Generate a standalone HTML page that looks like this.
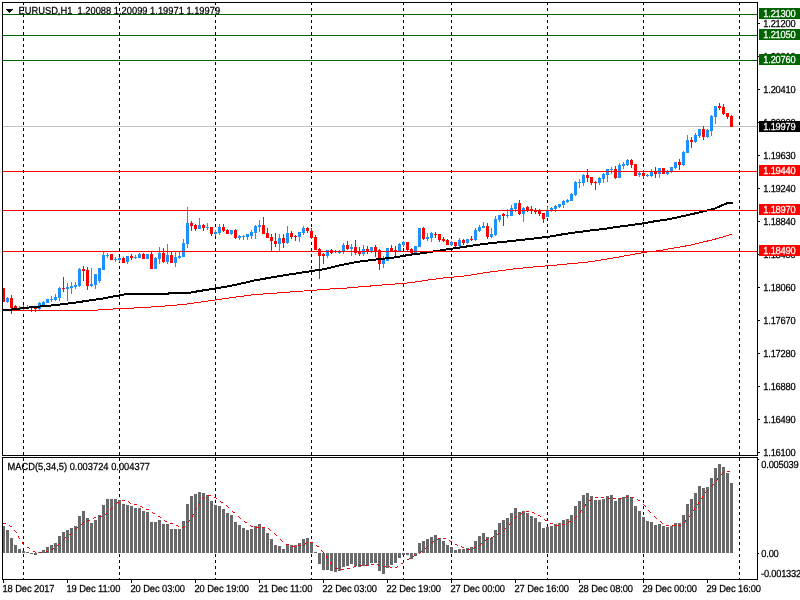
<!DOCTYPE html>
<html><head><meta charset="utf-8"><title>EURUSD,H1</title>
<style>
html,body{margin:0;padding:0;background:#fff;overflow:hidden}
svg{display:block}
text{font-family:"Liberation Sans",sans-serif;font-size:10.2px;fill:#000;stroke:#000;stroke-width:0.25px;text-rendering:geometricPrecision}
.ax{letter-spacing:-0.24px}
.tm{letter-spacing:-0.09px}
.w{fill:#fff;stroke:#fff}
</style></head><body>
<svg width="800" height="600" viewBox="0 0 800 600">
<rect x="0" y="0" width="800" height="600" fill="#fff"/>
<g shape-rendering="crispEdges">
<g stroke="#000" stroke-width="1" stroke-dasharray="3 3">
<line x1="23.5" y1="2" x2="23.5" y2="579"/>
<line x1="119.5" y1="2" x2="119.5" y2="579"/>
<line x1="215.5" y1="2" x2="215.5" y2="579"/>
<line x1="311.5" y1="2" x2="311.5" y2="579"/>
<line x1="403.5" y1="2" x2="403.5" y2="579"/>
<line x1="451.5" y1="2" x2="451.5" y2="579"/>
<line x1="547.5" y1="2" x2="547.5" y2="579"/>
<line x1="643.5" y1="2" x2="643.5" y2="579"/>
<line x1="739.5" y1="2" x2="739.5" y2="579"/>
</g>
<rect x="3" y="126" width="754" height="1" fill="#c0c0c0"/>
<rect x="3" y="288" width="1" height="14" fill="#ff0000"/>
<rect x="2" y="288" width="3" height="14" fill="#ff0000"/>
<rect x="7" y="297" width="1" height="6" fill="#1e90ff"/>
<rect x="6" y="298" width="3" height="4" fill="#1e90ff"/>
<rect x="11" y="295" width="1" height="19" fill="#ff0000"/>
<rect x="10" y="298" width="3" height="10" fill="#ff0000"/>
<rect x="15" y="305" width="1" height="4" fill="#ff0000"/>
<rect x="14" y="306" width="3" height="3" fill="#ff0000"/>
<rect x="19" y="306" width="1" height="5" fill="#1e90ff"/>
<rect x="18" y="308" width="3" height="2" fill="#1e90ff"/>
<rect x="23" y="305" width="1" height="6" fill="#1e90ff"/>
<rect x="22" y="307" width="3" height="2" fill="#1e90ff"/>
<rect x="27" y="305" width="1" height="3" fill="#1e90ff"/>
<rect x="26" y="307" width="3" height="1" fill="#1e90ff"/>
<rect x="31" y="307" width="1" height="5" fill="#ff0000"/>
<rect x="30" y="307" width="3" height="1" fill="#ff0000"/>
<rect x="35" y="307" width="1" height="5" fill="#ff0000"/>
<rect x="34" y="307" width="3" height="2" fill="#ff0000"/>
<rect x="39" y="302" width="1" height="8" fill="#1e90ff"/>
<rect x="38" y="303" width="3" height="6" fill="#1e90ff"/>
<rect x="43" y="301" width="1" height="5" fill="#1e90ff"/>
<rect x="42" y="302" width="3" height="3" fill="#1e90ff"/>
<rect x="47" y="299" width="1" height="4" fill="#1e90ff"/>
<rect x="46" y="299" width="3" height="4" fill="#1e90ff"/>
<rect x="51" y="296" width="1" height="6" fill="#1e90ff"/>
<rect x="50" y="299" width="3" height="1" fill="#1e90ff"/>
<rect x="55" y="294" width="1" height="7" fill="#1e90ff"/>
<rect x="54" y="297" width="3" height="3" fill="#1e90ff"/>
<rect x="59" y="287" width="1" height="14" fill="#1e90ff"/>
<rect x="58" y="288" width="3" height="10" fill="#1e90ff"/>
<rect x="63" y="277" width="1" height="15" fill="#ff0000"/>
<rect x="62" y="288" width="3" height="1" fill="#ff0000"/>
<rect x="67" y="283" width="1" height="18" fill="#1e90ff"/>
<rect x="66" y="287" width="3" height="2" fill="#1e90ff"/>
<rect x="71" y="282" width="1" height="12" fill="#1e90ff"/>
<rect x="70" y="286" width="3" height="2" fill="#1e90ff"/>
<rect x="75" y="282" width="1" height="7" fill="#1e90ff"/>
<rect x="74" y="285" width="3" height="2" fill="#1e90ff"/>
<rect x="79" y="268" width="1" height="19" fill="#1e90ff"/>
<rect x="78" y="269" width="3" height="17" fill="#1e90ff"/>
<rect x="83" y="266" width="1" height="15" fill="#ff0000"/>
<rect x="82" y="269" width="3" height="2" fill="#ff0000"/>
<rect x="87" y="267" width="1" height="23" fill="#ff0000"/>
<rect x="86" y="270" width="3" height="16" fill="#ff0000"/>
<rect x="91" y="268" width="1" height="19" fill="#1e90ff"/>
<rect x="90" y="284" width="3" height="2" fill="#1e90ff"/>
<rect x="95" y="274" width="1" height="15" fill="#1e90ff"/>
<rect x="94" y="274" width="3" height="11" fill="#1e90ff"/>
<rect x="99" y="268" width="1" height="15" fill="#1e90ff"/>
<rect x="98" y="268" width="3" height="13" fill="#1e90ff"/>
<rect x="103" y="252" width="1" height="18" fill="#1e90ff"/>
<rect x="102" y="255" width="3" height="15" fill="#1e90ff"/>
<rect x="107" y="253" width="1" height="5" fill="#1e90ff"/>
<rect x="106" y="255" width="3" height="1" fill="#1e90ff"/>
<rect x="111" y="254" width="1" height="6" fill="#ff0000"/>
<rect x="110" y="254" width="3" height="6" fill="#ff0000"/>
<rect x="115" y="257" width="1" height="5" fill="#1e90ff"/>
<rect x="114" y="259" width="3" height="1" fill="#1e90ff"/>
<rect x="119" y="257" width="1" height="5" fill="#1e90ff"/>
<rect x="118" y="258" width="3" height="2" fill="#1e90ff"/>
<rect x="123" y="257" width="1" height="6" fill="#ff0000"/>
<rect x="122" y="258" width="3" height="5" fill="#ff0000"/>
<rect x="127" y="256" width="1" height="8" fill="#1e90ff"/>
<rect x="126" y="256" width="3" height="6" fill="#1e90ff"/>
<rect x="131" y="254" width="1" height="6" fill="#ff0000"/>
<rect x="130" y="256" width="3" height="2" fill="#ff0000"/>
<rect x="135" y="255" width="1" height="4" fill="#1e90ff"/>
<rect x="134" y="257" width="3" height="1" fill="#1e90ff"/>
<rect x="139" y="253" width="1" height="5" fill="#1e90ff"/>
<rect x="138" y="254" width="3" height="4" fill="#1e90ff"/>
<rect x="143" y="253" width="1" height="6" fill="#ff0000"/>
<rect x="142" y="254" width="3" height="5" fill="#ff0000"/>
<rect x="147" y="254" width="1" height="5" fill="#1e90ff"/>
<rect x="146" y="254" width="3" height="5" fill="#1e90ff"/>
<rect x="151" y="252" width="1" height="17" fill="#ff0000"/>
<rect x="150" y="254" width="3" height="15" fill="#ff0000"/>
<rect x="155" y="257" width="1" height="12" fill="#1e90ff"/>
<rect x="154" y="258" width="3" height="11" fill="#1e90ff"/>
<rect x="159" y="247" width="1" height="17" fill="#1e90ff"/>
<rect x="158" y="253" width="3" height="6" fill="#1e90ff"/>
<rect x="163" y="248" width="1" height="15" fill="#ff0000"/>
<rect x="162" y="253" width="3" height="9" fill="#ff0000"/>
<rect x="167" y="244" width="1" height="20" fill="#1e90ff"/>
<rect x="166" y="255" width="3" height="7" fill="#1e90ff"/>
<rect x="171" y="252" width="1" height="11" fill="#ff0000"/>
<rect x="170" y="255" width="3" height="8" fill="#ff0000"/>
<rect x="175" y="252" width="1" height="15" fill="#1e90ff"/>
<rect x="174" y="257" width="3" height="6" fill="#1e90ff"/>
<rect x="179" y="252" width="1" height="7" fill="#1e90ff"/>
<rect x="178" y="256" width="3" height="2" fill="#1e90ff"/>
<rect x="183" y="239" width="1" height="18" fill="#1e90ff"/>
<rect x="182" y="243" width="3" height="14" fill="#1e90ff"/>
<rect x="187" y="207" width="1" height="41" fill="#1e90ff"/>
<rect x="186" y="223" width="3" height="21" fill="#1e90ff"/>
<rect x="191" y="221" width="1" height="10" fill="#ff0000"/>
<rect x="190" y="223" width="3" height="3" fill="#ff0000"/>
<rect x="195" y="224" width="1" height="7" fill="#ff0000"/>
<rect x="194" y="225" width="3" height="4" fill="#ff0000"/>
<rect x="199" y="218" width="1" height="11" fill="#1e90ff"/>
<rect x="198" y="225" width="3" height="4" fill="#1e90ff"/>
<rect x="203" y="224" width="1" height="7" fill="#ff0000"/>
<rect x="202" y="225" width="3" height="3" fill="#ff0000"/>
<rect x="207" y="223" width="1" height="7" fill="#1e90ff"/>
<rect x="206" y="227" width="3" height="1" fill="#1e90ff"/>
<rect x="211" y="227" width="1" height="9" fill="#ff0000"/>
<rect x="210" y="227" width="3" height="7" fill="#ff0000"/>
<rect x="215" y="230" width="1" height="6" fill="#1e90ff"/>
<rect x="214" y="232" width="3" height="2" fill="#1e90ff"/>
<rect x="219" y="224" width="1" height="11" fill="#1e90ff"/>
<rect x="218" y="227" width="3" height="6" fill="#1e90ff"/>
<rect x="223" y="224" width="1" height="8" fill="#ff0000"/>
<rect x="222" y="227" width="3" height="4" fill="#ff0000"/>
<rect x="227" y="229" width="1" height="5" fill="#ff0000"/>
<rect x="226" y="230" width="3" height="4" fill="#ff0000"/>
<rect x="231" y="230" width="1" height="5" fill="#1e90ff"/>
<rect x="230" y="230" width="3" height="4" fill="#1e90ff"/>
<rect x="235" y="229" width="1" height="10" fill="#ff0000"/>
<rect x="234" y="230" width="3" height="8" fill="#ff0000"/>
<rect x="239" y="235" width="1" height="5" fill="#1e90ff"/>
<rect x="238" y="236" width="3" height="2" fill="#1e90ff"/>
<rect x="243" y="235" width="1" height="5" fill="#1e90ff"/>
<rect x="242" y="236" width="3" height="1" fill="#1e90ff"/>
<rect x="247" y="234" width="1" height="6" fill="#1e90ff"/>
<rect x="246" y="234" width="3" height="3" fill="#1e90ff"/>
<rect x="251" y="230" width="1" height="9" fill="#1e90ff"/>
<rect x="250" y="232" width="3" height="4" fill="#1e90ff"/>
<rect x="255" y="225" width="1" height="14" fill="#1e90ff"/>
<rect x="254" y="226" width="3" height="7" fill="#1e90ff"/>
<rect x="259" y="220" width="1" height="12" fill="#1e90ff"/>
<rect x="258" y="225" width="3" height="2" fill="#1e90ff"/>
<rect x="263" y="217" width="1" height="17" fill="#ff0000"/>
<rect x="262" y="225" width="3" height="9" fill="#ff0000"/>
<rect x="267" y="228" width="1" height="10" fill="#ff0000"/>
<rect x="266" y="233" width="3" height="5" fill="#ff0000"/>
<rect x="271" y="234" width="1" height="18" fill="#ff0000"/>
<rect x="270" y="237" width="3" height="4" fill="#ff0000"/>
<rect x="275" y="233" width="1" height="14" fill="#ff0000"/>
<rect x="274" y="241" width="3" height="3" fill="#ff0000"/>
<rect x="279" y="234" width="1" height="18" fill="#1e90ff"/>
<rect x="278" y="238" width="3" height="6" fill="#1e90ff"/>
<rect x="283" y="234" width="1" height="14" fill="#ff0000"/>
<rect x="282" y="238" width="3" height="5" fill="#ff0000"/>
<rect x="287" y="226" width="1" height="18" fill="#1e90ff"/>
<rect x="286" y="233" width="3" height="10" fill="#1e90ff"/>
<rect x="291" y="231" width="1" height="8" fill="#ff0000"/>
<rect x="290" y="233" width="3" height="4" fill="#ff0000"/>
<rect x="295" y="235" width="1" height="6" fill="#ff0000"/>
<rect x="294" y="236" width="3" height="1" fill="#ff0000"/>
<rect x="299" y="232" width="1" height="10" fill="#1e90ff"/>
<rect x="298" y="232" width="3" height="5" fill="#1e90ff"/>
<rect x="303" y="226" width="1" height="9" fill="#1e90ff"/>
<rect x="302" y="228" width="3" height="5" fill="#1e90ff"/>
<rect x="307" y="227" width="1" height="6" fill="#ff0000"/>
<rect x="306" y="228" width="3" height="3" fill="#ff0000"/>
<rect x="311" y="228" width="1" height="11" fill="#ff0000"/>
<rect x="310" y="231" width="3" height="7" fill="#ff0000"/>
<rect x="315" y="235" width="1" height="15" fill="#ff0000"/>
<rect x="314" y="237" width="3" height="13" fill="#ff0000"/>
<rect x="319" y="248" width="1" height="31" fill="#ff0000"/>
<rect x="318" y="249" width="3" height="7" fill="#ff0000"/>
<rect x="323" y="253" width="1" height="11" fill="#ff0000"/>
<rect x="322" y="254" width="3" height="2" fill="#ff0000"/>
<rect x="327" y="250" width="1" height="8" fill="#1e90ff"/>
<rect x="326" y="250" width="3" height="6" fill="#1e90ff"/>
<rect x="331" y="249" width="1" height="5" fill="#ff0000"/>
<rect x="330" y="250" width="3" height="3" fill="#ff0000"/>
<rect x="335" y="250" width="1" height="3" fill="#ff0000"/>
<rect x="334" y="251" width="3" height="1" fill="#ff0000"/>
<rect x="339" y="250" width="1" height="4" fill="#1e90ff"/>
<rect x="338" y="252" width="3" height="1" fill="#1e90ff"/>
<rect x="343" y="243" width="1" height="11" fill="#1e90ff"/>
<rect x="342" y="245" width="3" height="6" fill="#1e90ff"/>
<rect x="347" y="241" width="1" height="9" fill="#ff0000"/>
<rect x="346" y="245" width="3" height="4" fill="#ff0000"/>
<rect x="351" y="244" width="1" height="12" fill="#1e90ff"/>
<rect x="350" y="247" width="3" height="2" fill="#1e90ff"/>
<rect x="355" y="240" width="1" height="15" fill="#ff0000"/>
<rect x="354" y="247" width="3" height="6" fill="#ff0000"/>
<rect x="359" y="247" width="1" height="9" fill="#ff0000"/>
<rect x="358" y="251" width="3" height="3" fill="#ff0000"/>
<rect x="363" y="245" width="1" height="11" fill="#1e90ff"/>
<rect x="362" y="249" width="3" height="5" fill="#1e90ff"/>
<rect x="367" y="246" width="1" height="8" fill="#ff0000"/>
<rect x="366" y="249" width="3" height="2" fill="#ff0000"/>
<rect x="371" y="247" width="1" height="6" fill="#1e90ff"/>
<rect x="370" y="247" width="3" height="4" fill="#1e90ff"/>
<rect x="375" y="245" width="1" height="12" fill="#ff0000"/>
<rect x="374" y="247" width="3" height="4" fill="#ff0000"/>
<rect x="379" y="249" width="1" height="21" fill="#ff0000"/>
<rect x="378" y="250" width="3" height="14" fill="#ff0000"/>
<rect x="383" y="256" width="1" height="12" fill="#1e90ff"/>
<rect x="382" y="259" width="3" height="5" fill="#1e90ff"/>
<rect x="387" y="248" width="1" height="13" fill="#1e90ff"/>
<rect x="386" y="248" width="3" height="13" fill="#1e90ff"/>
<rect x="391" y="245" width="1" height="7" fill="#ff0000"/>
<rect x="390" y="248" width="3" height="3" fill="#ff0000"/>
<rect x="395" y="246" width="1" height="11" fill="#ff0000"/>
<rect x="394" y="250" width="3" height="1" fill="#ff0000"/>
<rect x="399" y="243" width="1" height="8" fill="#1e90ff"/>
<rect x="398" y="244" width="3" height="7" fill="#1e90ff"/>
<rect x="403" y="241" width="1" height="6" fill="#1e90ff"/>
<rect x="402" y="242" width="3" height="3" fill="#1e90ff"/>
<rect x="407" y="242" width="1" height="9" fill="#ff0000"/>
<rect x="406" y="242" width="3" height="8" fill="#ff0000"/>
<rect x="411" y="248" width="1" height="6" fill="#ff0000"/>
<rect x="410" y="249" width="3" height="4" fill="#ff0000"/>
<rect x="415" y="246" width="1" height="8" fill="#1e90ff"/>
<rect x="414" y="246" width="3" height="8" fill="#1e90ff"/>
<rect x="419" y="228" width="1" height="19" fill="#1e90ff"/>
<rect x="418" y="228" width="3" height="19" fill="#1e90ff"/>
<rect x="423" y="227" width="1" height="13" fill="#ff0000"/>
<rect x="422" y="228" width="3" height="11" fill="#ff0000"/>
<rect x="427" y="233" width="1" height="8" fill="#1e90ff"/>
<rect x="426" y="237" width="3" height="2" fill="#1e90ff"/>
<rect x="431" y="232" width="1" height="10" fill="#1e90ff"/>
<rect x="430" y="233" width="3" height="5" fill="#1e90ff"/>
<rect x="435" y="232" width="1" height="6" fill="#ff0000"/>
<rect x="434" y="234" width="3" height="1" fill="#ff0000"/>
<rect x="439" y="234" width="1" height="8" fill="#ff0000"/>
<rect x="438" y="234" width="3" height="6" fill="#ff0000"/>
<rect x="443" y="237" width="1" height="5" fill="#ff0000"/>
<rect x="442" y="239" width="3" height="2" fill="#ff0000"/>
<rect x="447" y="239" width="1" height="6" fill="#ff0000"/>
<rect x="446" y="240" width="3" height="5" fill="#ff0000"/>
<rect x="451" y="241" width="1" height="5" fill="#1e90ff"/>
<rect x="450" y="242" width="3" height="3" fill="#1e90ff"/>
<rect x="455" y="242" width="1" height="5" fill="#ff0000"/>
<rect x="454" y="242" width="3" height="4" fill="#ff0000"/>
<rect x="459" y="238" width="1" height="9" fill="#1e90ff"/>
<rect x="458" y="240" width="3" height="6" fill="#1e90ff"/>
<rect x="463" y="239" width="1" height="6" fill="#ff0000"/>
<rect x="462" y="240" width="3" height="3" fill="#ff0000"/>
<rect x="467" y="239" width="1" height="5" fill="#1e90ff"/>
<rect x="466" y="239" width="3" height="4" fill="#1e90ff"/>
<rect x="471" y="236" width="1" height="5" fill="#ff0000"/>
<rect x="470" y="239" width="3" height="1" fill="#ff0000"/>
<rect x="475" y="228" width="1" height="13" fill="#1e90ff"/>
<rect x="474" y="230" width="3" height="10" fill="#1e90ff"/>
<rect x="479" y="225" width="1" height="7" fill="#1e90ff"/>
<rect x="478" y="227" width="3" height="4" fill="#1e90ff"/>
<rect x="483" y="222" width="1" height="6" fill="#1e90ff"/>
<rect x="482" y="226" width="3" height="2" fill="#1e90ff"/>
<rect x="487" y="223" width="1" height="16" fill="#ff0000"/>
<rect x="486" y="226" width="3" height="11" fill="#ff0000"/>
<rect x="491" y="228" width="1" height="10" fill="#1e90ff"/>
<rect x="490" y="234" width="3" height="3" fill="#1e90ff"/>
<rect x="495" y="216" width="1" height="20" fill="#1e90ff"/>
<rect x="494" y="219" width="3" height="16" fill="#1e90ff"/>
<rect x="499" y="215" width="1" height="7" fill="#1e90ff"/>
<rect x="498" y="215" width="3" height="5" fill="#1e90ff"/>
<rect x="503" y="213" width="1" height="13" fill="#ff0000"/>
<rect x="502" y="214" width="3" height="2" fill="#ff0000"/>
<rect x="507" y="209" width="1" height="9" fill="#1e90ff"/>
<rect x="506" y="215" width="3" height="1" fill="#1e90ff"/>
<rect x="511" y="205" width="1" height="11" fill="#1e90ff"/>
<rect x="510" y="208" width="3" height="8" fill="#1e90ff"/>
<rect x="515" y="203" width="1" height="9" fill="#1e90ff"/>
<rect x="514" y="203" width="3" height="6" fill="#1e90ff"/>
<rect x="519" y="200" width="1" height="15" fill="#ff0000"/>
<rect x="518" y="203" width="3" height="11" fill="#ff0000"/>
<rect x="523" y="207" width="1" height="15" fill="#1e90ff"/>
<rect x="522" y="208" width="3" height="6" fill="#1e90ff"/>
<rect x="527" y="206" width="1" height="6" fill="#ff0000"/>
<rect x="526" y="207" width="3" height="4" fill="#ff0000"/>
<rect x="531" y="206" width="1" height="8" fill="#ff0000"/>
<rect x="530" y="209" width="3" height="2" fill="#ff0000"/>
<rect x="535" y="208" width="1" height="6" fill="#ff0000"/>
<rect x="534" y="210" width="3" height="2" fill="#ff0000"/>
<rect x="539" y="209" width="1" height="7" fill="#ff0000"/>
<rect x="538" y="211" width="3" height="3" fill="#ff0000"/>
<rect x="543" y="213" width="1" height="10" fill="#ff0000"/>
<rect x="542" y="213" width="3" height="6" fill="#ff0000"/>
<rect x="547" y="207" width="1" height="10" fill="#1e90ff"/>
<rect x="546" y="211" width="3" height="6" fill="#1e90ff"/>
<rect x="551" y="207" width="1" height="5" fill="#1e90ff"/>
<rect x="550" y="208" width="3" height="3" fill="#1e90ff"/>
<rect x="555" y="205" width="1" height="7" fill="#1e90ff"/>
<rect x="554" y="206" width="3" height="3" fill="#1e90ff"/>
<rect x="559" y="204" width="1" height="4" fill="#1e90ff"/>
<rect x="558" y="204" width="3" height="3" fill="#1e90ff"/>
<rect x="563" y="200" width="1" height="8" fill="#1e90ff"/>
<rect x="562" y="201" width="3" height="4" fill="#1e90ff"/>
<rect x="567" y="199" width="1" height="4" fill="#1e90ff"/>
<rect x="566" y="200" width="3" height="2" fill="#1e90ff"/>
<rect x="571" y="193" width="1" height="8" fill="#1e90ff"/>
<rect x="570" y="194" width="3" height="7" fill="#1e90ff"/>
<rect x="575" y="181" width="1" height="15" fill="#1e90ff"/>
<rect x="574" y="182" width="3" height="13" fill="#1e90ff"/>
<rect x="579" y="179" width="1" height="9" fill="#1e90ff"/>
<rect x="578" y="182" width="3" height="1" fill="#1e90ff"/>
<rect x="583" y="174" width="1" height="12" fill="#1e90ff"/>
<rect x="582" y="175" width="3" height="8" fill="#1e90ff"/>
<rect x="587" y="169" width="1" height="13" fill="#ff0000"/>
<rect x="586" y="175" width="3" height="3" fill="#ff0000"/>
<rect x="591" y="177" width="1" height="8" fill="#ff0000"/>
<rect x="590" y="177" width="3" height="6" fill="#ff0000"/>
<rect x="595" y="181" width="1" height="9" fill="#ff0000"/>
<rect x="594" y="182" width="3" height="1" fill="#ff0000"/>
<rect x="599" y="177" width="1" height="8" fill="#1e90ff"/>
<rect x="598" y="178" width="3" height="5" fill="#1e90ff"/>
<rect x="603" y="173" width="1" height="10" fill="#1e90ff"/>
<rect x="602" y="174" width="3" height="5" fill="#1e90ff"/>
<rect x="607" y="169" width="1" height="13" fill="#1e90ff"/>
<rect x="606" y="169" width="3" height="6" fill="#1e90ff"/>
<rect x="611" y="167" width="1" height="7" fill="#1e90ff"/>
<rect x="610" y="169" width="3" height="1" fill="#1e90ff"/>
<rect x="615" y="166" width="1" height="13" fill="#ff0000"/>
<rect x="614" y="169" width="3" height="9" fill="#ff0000"/>
<rect x="619" y="163" width="1" height="15" fill="#1e90ff"/>
<rect x="618" y="165" width="3" height="13" fill="#1e90ff"/>
<rect x="623" y="162" width="1" height="7" fill="#1e90ff"/>
<rect x="622" y="164" width="3" height="2" fill="#1e90ff"/>
<rect x="627" y="159" width="1" height="7" fill="#1e90ff"/>
<rect x="626" y="160" width="3" height="5" fill="#1e90ff"/>
<rect x="631" y="159" width="1" height="9" fill="#ff0000"/>
<rect x="630" y="160" width="3" height="5" fill="#ff0000"/>
<rect x="635" y="164" width="1" height="12" fill="#ff0000"/>
<rect x="634" y="164" width="3" height="12" fill="#ff0000"/>
<rect x="639" y="172" width="1" height="5" fill="#1e90ff"/>
<rect x="638" y="173" width="3" height="2" fill="#1e90ff"/>
<rect x="643" y="170" width="1" height="9" fill="#ff0000"/>
<rect x="642" y="173" width="3" height="3" fill="#ff0000"/>
<rect x="647" y="174" width="1" height="3" fill="#1e90ff"/>
<rect x="646" y="175" width="3" height="1" fill="#1e90ff"/>
<rect x="651" y="169" width="1" height="8" fill="#1e90ff"/>
<rect x="650" y="172" width="3" height="4" fill="#1e90ff"/>
<rect x="655" y="167" width="1" height="11" fill="#ff0000"/>
<rect x="654" y="172" width="3" height="2" fill="#ff0000"/>
<rect x="659" y="168" width="1" height="10" fill="#1e90ff"/>
<rect x="658" y="168" width="3" height="6" fill="#1e90ff"/>
<rect x="663" y="168" width="1" height="6" fill="#ff0000"/>
<rect x="662" y="168" width="3" height="6" fill="#ff0000"/>
<rect x="667" y="170" width="1" height="5" fill="#1e90ff"/>
<rect x="666" y="171" width="3" height="3" fill="#1e90ff"/>
<rect x="671" y="167" width="1" height="6" fill="#1e90ff"/>
<rect x="670" y="167" width="3" height="4" fill="#1e90ff"/>
<rect x="675" y="162" width="1" height="7" fill="#1e90ff"/>
<rect x="674" y="162" width="3" height="6" fill="#1e90ff"/>
<rect x="679" y="159" width="1" height="11" fill="#ff0000"/>
<rect x="678" y="162" width="3" height="3" fill="#ff0000"/>
<rect x="683" y="151" width="1" height="15" fill="#1e90ff"/>
<rect x="682" y="152" width="3" height="13" fill="#1e90ff"/>
<rect x="687" y="135" width="1" height="18" fill="#1e90ff"/>
<rect x="686" y="140" width="3" height="13" fill="#1e90ff"/>
<rect x="691" y="137" width="1" height="11" fill="#ff0000"/>
<rect x="690" y="140" width="3" height="2" fill="#ff0000"/>
<rect x="695" y="133" width="1" height="10" fill="#1e90ff"/>
<rect x="694" y="135" width="3" height="7" fill="#1e90ff"/>
<rect x="699" y="129" width="1" height="9" fill="#1e90ff"/>
<rect x="698" y="129" width="3" height="7" fill="#1e90ff"/>
<rect x="703" y="126" width="1" height="14" fill="#ff0000"/>
<rect x="702" y="129" width="3" height="8" fill="#ff0000"/>
<rect x="707" y="129" width="1" height="9" fill="#1e90ff"/>
<rect x="706" y="130" width="3" height="7" fill="#1e90ff"/>
<rect x="711" y="115" width="1" height="21" fill="#1e90ff"/>
<rect x="710" y="116" width="3" height="15" fill="#1e90ff"/>
<rect x="715" y="106" width="1" height="18" fill="#1e90ff"/>
<rect x="714" y="106" width="3" height="11" fill="#1e90ff"/>
<rect x="719" y="103" width="1" height="7" fill="#ff0000"/>
<rect x="718" y="106" width="3" height="2" fill="#ff0000"/>
<rect x="723" y="104" width="1" height="11" fill="#ff0000"/>
<rect x="722" y="107" width="3" height="7" fill="#ff0000"/>
<rect x="727" y="113" width="1" height="6" fill="#ff0000"/>
<rect x="726" y="113" width="3" height="4" fill="#ff0000"/>
<rect x="731" y="115" width="1" height="12" fill="#ff0000"/>
<rect x="730" y="116" width="3" height="11" fill="#ff0000"/>
<rect x="2" y="526" width="3" height="27" fill="#696969"/>
<rect x="6" y="530" width="3" height="23" fill="#696969"/>
<rect x="10" y="538" width="3" height="15" fill="#696969"/>
<rect x="14" y="545" width="3" height="8" fill="#696969"/>
<rect x="18" y="549" width="3" height="4" fill="#696969"/>
<rect x="22" y="551" width="3" height="2" fill="#696969"/>
<rect x="26" y="552" width="3" height="1" fill="#696969"/>
<rect x="30" y="553" width="3" height="1" fill="#696969"/>
<rect x="34" y="553" width="3" height="2" fill="#696969"/>
<rect x="38" y="552" width="3" height="1" fill="#696969"/>
<rect x="42" y="550" width="3" height="3" fill="#696969"/>
<rect x="46" y="547" width="3" height="6" fill="#696969"/>
<rect x="50" y="545" width="3" height="8" fill="#696969"/>
<rect x="54" y="543" width="3" height="10" fill="#696969"/>
<rect x="58" y="536" width="3" height="17" fill="#696969"/>
<rect x="62" y="532" width="3" height="21" fill="#696969"/>
<rect x="66" y="530" width="3" height="23" fill="#696969"/>
<rect x="70" y="528" width="3" height="25" fill="#696969"/>
<rect x="74" y="526" width="3" height="27" fill="#696969"/>
<rect x="78" y="516" width="3" height="37" fill="#696969"/>
<rect x="82" y="511" width="3" height="42" fill="#696969"/>
<rect x="86" y="518" width="3" height="35" fill="#696969"/>
<rect x="90" y="523" width="3" height="30" fill="#696969"/>
<rect x="94" y="520" width="3" height="33" fill="#696969"/>
<rect x="98" y="515" width="3" height="38" fill="#696969"/>
<rect x="102" y="505" width="3" height="48" fill="#696969"/>
<rect x="106" y="499" width="3" height="54" fill="#696969"/>
<rect x="110" y="499" width="3" height="54" fill="#696969"/>
<rect x="114" y="499" width="3" height="54" fill="#696969"/>
<rect x="118" y="500" width="3" height="53" fill="#696969"/>
<rect x="122" y="504" width="3" height="49" fill="#696969"/>
<rect x="126" y="505" width="3" height="48" fill="#696969"/>
<rect x="130" y="506" width="3" height="47" fill="#696969"/>
<rect x="134" y="508" width="3" height="45" fill="#696969"/>
<rect x="138" y="508" width="3" height="45" fill="#696969"/>
<rect x="142" y="511" width="3" height="42" fill="#696969"/>
<rect x="146" y="512" width="3" height="41" fill="#696969"/>
<rect x="150" y="522" width="3" height="31" fill="#696969"/>
<rect x="154" y="522" width="3" height="31" fill="#696969"/>
<rect x="158" y="520" width="3" height="33" fill="#696969"/>
<rect x="162" y="524" width="3" height="29" fill="#696969"/>
<rect x="166" y="524" width="3" height="29" fill="#696969"/>
<rect x="170" y="529" width="3" height="24" fill="#696969"/>
<rect x="174" y="529" width="3" height="24" fill="#696969"/>
<rect x="178" y="529" width="3" height="24" fill="#696969"/>
<rect x="182" y="521" width="3" height="32" fill="#696969"/>
<rect x="186" y="504" width="3" height="49" fill="#696969"/>
<rect x="190" y="496" width="3" height="57" fill="#696969"/>
<rect x="194" y="494" width="3" height="59" fill="#696969"/>
<rect x="198" y="492" width="3" height="61" fill="#696969"/>
<rect x="202" y="493" width="3" height="60" fill="#696969"/>
<rect x="206" y="495" width="3" height="58" fill="#696969"/>
<rect x="210" y="501" width="3" height="52" fill="#696969"/>
<rect x="214" y="505" width="3" height="48" fill="#696969"/>
<rect x="218" y="506" width="3" height="47" fill="#696969"/>
<rect x="222" y="509" width="3" height="44" fill="#696969"/>
<rect x="226" y="513" width="3" height="40" fill="#696969"/>
<rect x="230" y="515" width="3" height="38" fill="#696969"/>
<rect x="234" y="522" width="3" height="31" fill="#696969"/>
<rect x="238" y="525" width="3" height="28" fill="#696969"/>
<rect x="242" y="528" width="3" height="25" fill="#696969"/>
<rect x="246" y="530" width="3" height="23" fill="#696969"/>
<rect x="250" y="529" width="3" height="24" fill="#696969"/>
<rect x="254" y="526" width="3" height="27" fill="#696969"/>
<rect x="258" y="524" width="3" height="29" fill="#696969"/>
<rect x="262" y="528" width="3" height="25" fill="#696969"/>
<rect x="266" y="533" width="3" height="20" fill="#696969"/>
<rect x="270" y="539" width="3" height="14" fill="#696969"/>
<rect x="274" y="545" width="3" height="8" fill="#696969"/>
<rect x="278" y="546" width="3" height="7" fill="#696969"/>
<rect x="282" y="549" width="3" height="4" fill="#696969"/>
<rect x="286" y="545" width="3" height="8" fill="#696969"/>
<rect x="290" y="545" width="3" height="8" fill="#696969"/>
<rect x="294" y="545" width="3" height="8" fill="#696969"/>
<rect x="298" y="543" width="3" height="10" fill="#696969"/>
<rect x="302" y="539" width="3" height="14" fill="#696969"/>
<rect x="306" y="538" width="3" height="15" fill="#696969"/>
<rect x="310" y="542" width="3" height="11" fill="#696969"/>
<rect x="314" y="552" width="3" height="1" fill="#696969"/>
<rect x="318" y="553" width="3" height="11" fill="#696969"/>
<rect x="322" y="553" width="3" height="17" fill="#696969"/>
<rect x="326" y="553" width="3" height="17" fill="#696969"/>
<rect x="330" y="553" width="3" height="18" fill="#696969"/>
<rect x="334" y="553" width="3" height="19" fill="#696969"/>
<rect x="338" y="553" width="3" height="18" fill="#696969"/>
<rect x="342" y="553" width="3" height="14" fill="#696969"/>
<rect x="346" y="553" width="3" height="13" fill="#696969"/>
<rect x="350" y="553" width="3" height="11" fill="#696969"/>
<rect x="354" y="553" width="3" height="13" fill="#696969"/>
<rect x="358" y="553" width="3" height="14" fill="#696969"/>
<rect x="362" y="553" width="3" height="13" fill="#696969"/>
<rect x="366" y="553" width="3" height="13" fill="#696969"/>
<rect x="370" y="553" width="3" height="10" fill="#696969"/>
<rect x="374" y="553" width="3" height="10" fill="#696969"/>
<rect x="378" y="553" width="3" height="18" fill="#696969"/>
<rect x="382" y="553" width="3" height="21" fill="#696969"/>
<rect x="386" y="553" width="3" height="15" fill="#696969"/>
<rect x="390" y="553" width="3" height="12" fill="#696969"/>
<rect x="394" y="553" width="3" height="10" fill="#696969"/>
<rect x="398" y="553" width="3" height="5" fill="#696969"/>
<rect x="402" y="553" width="3" height="2" fill="#696969"/>
<rect x="406" y="553" width="3" height="2" fill="#696969"/>
<rect x="410" y="553" width="3" height="6" fill="#696969"/>
<rect x="414" y="553" width="3" height="3" fill="#696969"/>
<rect x="418" y="543" width="3" height="10" fill="#696969"/>
<rect x="422" y="541" width="3" height="12" fill="#696969"/>
<rect x="426" y="539" width="3" height="14" fill="#696969"/>
<rect x="430" y="537" width="3" height="16" fill="#696969"/>
<rect x="434" y="535" width="3" height="18" fill="#696969"/>
<rect x="438" y="538" width="3" height="15" fill="#696969"/>
<rect x="442" y="541" width="3" height="12" fill="#696969"/>
<rect x="446" y="545" width="3" height="8" fill="#696969"/>
<rect x="450" y="547" width="3" height="6" fill="#696969"/>
<rect x="454" y="550" width="3" height="3" fill="#696969"/>
<rect x="458" y="549" width="3" height="4" fill="#696969"/>
<rect x="462" y="549" width="3" height="4" fill="#696969"/>
<rect x="466" y="548" width="3" height="5" fill="#696969"/>
<rect x="470" y="547" width="3" height="6" fill="#696969"/>
<rect x="474" y="541" width="3" height="12" fill="#696969"/>
<rect x="478" y="536" width="3" height="17" fill="#696969"/>
<rect x="482" y="533" width="3" height="20" fill="#696969"/>
<rect x="486" y="537" width="3" height="16" fill="#696969"/>
<rect x="490" y="538" width="3" height="15" fill="#696969"/>
<rect x="494" y="530" width="3" height="23" fill="#696969"/>
<rect x="498" y="523" width="3" height="30" fill="#696969"/>
<rect x="502" y="520" width="3" height="33" fill="#696969"/>
<rect x="506" y="518" width="3" height="35" fill="#696969"/>
<rect x="510" y="513" width="3" height="40" fill="#696969"/>
<rect x="514" y="508" width="3" height="45" fill="#696969"/>
<rect x="518" y="512" width="3" height="41" fill="#696969"/>
<rect x="522" y="511" width="3" height="42" fill="#696969"/>
<rect x="526" y="513" width="3" height="40" fill="#696969"/>
<rect x="530" y="516" width="3" height="37" fill="#696969"/>
<rect x="534" y="518" width="3" height="35" fill="#696969"/>
<rect x="538" y="522" width="3" height="31" fill="#696969"/>
<rect x="542" y="528" width="3" height="25" fill="#696969"/>
<rect x="546" y="527" width="3" height="26" fill="#696969"/>
<rect x="550" y="526" width="3" height="27" fill="#696969"/>
<rect x="554" y="524" width="3" height="29" fill="#696969"/>
<rect x="558" y="523" width="3" height="30" fill="#696969"/>
<rect x="562" y="520" width="3" height="33" fill="#696969"/>
<rect x="566" y="519" width="3" height="34" fill="#696969"/>
<rect x="570" y="515" width="3" height="38" fill="#696969"/>
<rect x="574" y="506" width="3" height="47" fill="#696969"/>
<rect x="578" y="501" width="3" height="52" fill="#696969"/>
<rect x="582" y="495" width="3" height="58" fill="#696969"/>
<rect x="586" y="493" width="3" height="60" fill="#696969"/>
<rect x="590" y="496" width="3" height="57" fill="#696969"/>
<rect x="594" y="500" width="3" height="53" fill="#696969"/>
<rect x="598" y="500" width="3" height="53" fill="#696969"/>
<rect x="602" y="499" width="3" height="54" fill="#696969"/>
<rect x="606" y="496" width="3" height="57" fill="#696969"/>
<rect x="610" y="495" width="3" height="58" fill="#696969"/>
<rect x="614" y="501" width="3" height="52" fill="#696969"/>
<rect x="618" y="498" width="3" height="55" fill="#696969"/>
<rect x="622" y="497" width="3" height="56" fill="#696969"/>
<rect x="626" y="495" width="3" height="58" fill="#696969"/>
<rect x="630" y="497" width="3" height="56" fill="#696969"/>
<rect x="634" y="506" width="3" height="47" fill="#696969"/>
<rect x="638" y="511" width="3" height="42" fill="#696969"/>
<rect x="642" y="517" width="3" height="36" fill="#696969"/>
<rect x="646" y="521" width="3" height="32" fill="#696969"/>
<rect x="650" y="522" width="3" height="31" fill="#696969"/>
<rect x="654" y="525" width="3" height="28" fill="#696969"/>
<rect x="658" y="524" width="3" height="29" fill="#696969"/>
<rect x="662" y="526" width="3" height="27" fill="#696969"/>
<rect x="666" y="527" width="3" height="26" fill="#696969"/>
<rect x="670" y="526" width="3" height="27" fill="#696969"/>
<rect x="674" y="523" width="3" height="30" fill="#696969"/>
<rect x="678" y="523" width="3" height="30" fill="#696969"/>
<rect x="682" y="515" width="3" height="38" fill="#696969"/>
<rect x="686" y="504" width="3" height="49" fill="#696969"/>
<rect x="690" y="499" width="3" height="54" fill="#696969"/>
<rect x="694" y="493" width="3" height="60" fill="#696969"/>
<rect x="698" y="486" width="3" height="67" fill="#696969"/>
<rect x="702" y="488" width="3" height="65" fill="#696969"/>
<rect x="706" y="487" width="3" height="66" fill="#696969"/>
<rect x="710" y="478" width="3" height="75" fill="#696969"/>
<rect x="714" y="468" width="3" height="85" fill="#696969"/>
<rect x="718" y="464" width="3" height="89" fill="#696969"/>
<rect x="722" y="467" width="3" height="86" fill="#696969"/>
<rect x="726" y="473" width="3" height="80" fill="#696969"/>
<rect x="730" y="483" width="3" height="70" fill="#696969"/>
</g>
<polyline points="3.00,310.50 92.00,310.50 104.00,309.50 119.00,308.70 125.00,308.50 143.00,307.50 159.00,306.50 171.00,305.50 183.00,304.50 191.00,303.50 200.00,302.20 215.50,300.00 230.00,297.80 240.00,296.50 255.00,294.55 270.00,293.50 285.00,292.45 300.00,291.25 311.00,290.50 330.00,289.00 345.00,288.25 355.00,287.25 370.00,286.05 385.00,284.70 403.00,283.50 415.00,282.00 430.00,279.75 445.00,277.80 460.00,276.45 470.00,275.25 485.00,272.70 500.00,270.75 515.00,268.80 530.00,267.30 547.25,265.80 560.00,264.75 575.00,263.25 585.00,262.50 600.00,260.25 615.00,257.70 630.00,255.00 643.50,252.45 660.00,250.50 675.00,247.80 690.00,245.25 713.50,239.55 724.00,236.70 730.75,234.30 731.50,234.00" fill="none" stroke="#ff0000" stroke-width="1" shape-rendering="crispEdges"/>
<polyline points="2.50,310.20 7.50,310.00 16.00,309.00 24.00,308.00 34.00,307.00 46.00,306.00 56.00,305.00 64.00,304.00 72.00,303.00 79.50,302.00 85.50,301.00 92.00,300.00 99.75,299.00 105.75,298.00 110.25,297.00 116.25,296.00 122.00,295.00 126.00,294.05 167.00,294.05 170.00,293.00 188.00,293.00 200.00,290.90 215.50,288.50 230.00,286.00 240.00,283.80 248.00,282.10 255.00,280.30 285.00,275.20 311.25,271.10 325.00,269.00 340.00,265.25 355.00,262.25 364.00,261.00 372.00,260.00 380.00,259.00 390.00,258.00 398.00,257.00 403.00,255.90 415.00,254.00 420.00,253.50 435.00,251.25 451.50,248.70 465.00,246.75 480.00,244.50 495.00,242.70 510.00,241.20 525.00,239.55 540.00,237.75 547.25,237.00 560.00,234.75 575.00,232.50 590.00,230.55 605.00,228.75 620.00,226.50 635.00,224.55 643.50,223.30 655.00,221.25 670.00,219.00 685.00,215.70 700.00,212.25 715.00,208.50 721.00,205.80 727.00,203.25 731.50,202.80 732.50,202.80" fill="none" stroke="#000" stroke-width="2" shape-rendering="crispEdges"/>
<g shape-rendering="crispEdges" fill="#ff0000">
<rect x="727" y="471" width="3" height="1"/>
<rect x="723" y="472" width="1" height="1"/>
<rect x="722" y="473" width="1" height="1"/>
<rect x="721" y="474" width="1" height="1"/>
<rect x="717" y="478" width="1" height="1"/>
<rect x="717" y="479" width="1" height="1"/>
<rect x="716" y="480" width="1" height="1"/>
<rect x="713" y="484" width="1" height="1"/>
<rect x="712" y="485" width="1" height="1"/>
<rect x="711" y="486" width="1" height="1"/>
<rect x="707" y="490" width="1" height="1"/>
<rect x="706" y="491" width="1" height="1"/>
<rect x="705" y="492" width="1" height="1"/>
<rect x="208" y="495" width="3" height="1"/>
<rect x="626" y="496" width="2" height="1"/>
<rect x="702" y="496" width="1" height="1"/>
<rect x="203" y="497" width="2" height="1"/>
<rect x="214" y="497" width="2" height="1"/>
<rect x="595" y="497" width="3" height="1"/>
<rect x="601" y="497" width="3" height="1"/>
<rect x="625" y="497" width="1" height="1"/>
<rect x="631" y="497" width="3" height="1"/>
<rect x="702" y="497" width="1" height="1"/>
<rect x="202" y="498" width="1" height="1"/>
<rect x="216" y="498" width="1" height="1"/>
<rect x="607" y="498" width="3" height="1"/>
<rect x="613" y="498" width="3" height="1"/>
<rect x="619" y="498" width="3" height="1"/>
<rect x="701" y="498" width="1" height="1"/>
<rect x="591" y="499" width="1" height="1"/>
<rect x="637" y="499" width="1" height="1"/>
<rect x="122" y="500" width="3" height="1"/>
<rect x="589" y="500" width="2" height="1"/>
<rect x="638" y="500" width="2" height="1"/>
<rect x="128" y="501" width="1" height="1"/>
<rect x="220" y="501" width="1" height="1"/>
<rect x="117" y="502" width="2" height="1"/>
<rect x="129" y="502" width="1" height="1"/>
<rect x="199" y="502" width="1" height="1"/>
<rect x="221" y="502" width="2" height="1"/>
<rect x="698" y="502" width="1" height="1"/>
<rect x="116" y="503" width="1" height="1"/>
<rect x="130" y="503" width="1" height="1"/>
<rect x="199" y="503" width="1" height="1"/>
<rect x="698" y="503" width="1" height="1"/>
<rect x="134" y="504" width="3" height="1"/>
<rect x="198" y="504" width="1" height="1"/>
<rect x="585" y="504" width="1" height="1"/>
<rect x="643" y="504" width="1" height="1"/>
<rect x="697" y="504" width="1" height="1"/>
<rect x="226" y="505" width="1" height="1"/>
<rect x="585" y="505" width="1" height="1"/>
<rect x="644" y="505" width="1" height="1"/>
<rect x="140" y="506" width="2" height="1"/>
<rect x="227" y="506" width="1" height="1"/>
<rect x="584" y="506" width="1" height="1"/>
<rect x="645" y="506" width="1" height="1"/>
<rect x="112" y="507" width="1" height="1"/>
<rect x="142" y="507" width="1" height="1"/>
<rect x="228" y="507" width="1" height="1"/>
<rect x="111" y="508" width="1" height="1"/>
<rect x="196" y="508" width="1" height="1"/>
<rect x="694" y="508" width="1" height="1"/>
<rect x="110" y="509" width="1" height="1"/>
<rect x="146" y="509" width="3" height="1"/>
<rect x="195" y="509" width="1" height="1"/>
<rect x="694" y="509" width="1" height="1"/>
<rect x="195" y="510" width="1" height="1"/>
<rect x="581" y="510" width="1" height="1"/>
<rect x="648" y="510" width="1" height="1"/>
<rect x="693" y="510" width="1" height="1"/>
<rect x="232" y="511" width="1" height="1"/>
<rect x="526" y="511" width="3" height="1"/>
<rect x="580" y="511" width="1" height="1"/>
<rect x="649" y="511" width="1" height="1"/>
<rect x="152" y="512" width="1" height="1"/>
<rect x="233" y="512" width="2" height="1"/>
<rect x="522" y="512" width="1" height="1"/>
<rect x="532" y="512" width="2" height="1"/>
<rect x="580" y="512" width="1" height="1"/>
<rect x="650" y="512" width="1" height="1"/>
<rect x="106" y="513" width="2" height="1"/>
<rect x="153" y="513" width="2" height="1"/>
<rect x="521" y="513" width="1" height="1"/>
<rect x="534" y="513" width="1" height="1"/>
<rect x="105" y="514" width="1" height="1"/>
<rect x="193" y="514" width="1" height="1"/>
<rect x="520" y="514" width="1" height="1"/>
<rect x="691" y="514" width="1" height="1"/>
<rect x="192" y="515" width="1" height="1"/>
<rect x="538" y="515" width="2" height="1"/>
<rect x="690" y="515" width="1" height="1"/>
<rect x="99" y="516" width="3" height="1"/>
<rect x="158" y="516" width="2" height="1"/>
<rect x="192" y="516" width="1" height="1"/>
<rect x="238" y="516" width="1" height="1"/>
<rect x="516" y="516" width="1" height="1"/>
<rect x="540" y="516" width="1" height="1"/>
<rect x="576" y="516" width="1" height="1"/>
<rect x="654" y="516" width="1" height="1"/>
<rect x="689" y="516" width="1" height="1"/>
<rect x="94" y="517" width="2" height="1"/>
<rect x="160" y="517" width="1" height="1"/>
<rect x="239" y="517" width="1" height="1"/>
<rect x="515" y="517" width="1" height="1"/>
<rect x="575" y="517" width="1" height="1"/>
<rect x="655" y="517" width="1" height="1"/>
<rect x="93" y="518" width="1" height="1"/>
<rect x="240" y="518" width="1" height="1"/>
<rect x="514" y="518" width="1" height="1"/>
<rect x="574" y="518" width="1" height="1"/>
<rect x="656" y="518" width="1" height="1"/>
<rect x="544" y="519" width="1" height="1"/>
<rect x="87" y="520" width="3" height="1"/>
<rect x="164" y="520" width="1" height="1"/>
<rect x="189" y="520" width="1" height="1"/>
<rect x="545" y="520" width="2" height="1"/>
<rect x="685" y="520" width="1" height="1"/>
<rect x="165" y="521" width="2" height="1"/>
<rect x="188" y="521" width="1" height="1"/>
<rect x="244" y="521" width="1" height="1"/>
<rect x="569" y="521" width="2" height="1"/>
<rect x="660" y="521" width="1" height="1"/>
<rect x="685" y="521" width="1" height="1"/>
<rect x="83" y="522" width="1" height="1"/>
<rect x="187" y="522" width="1" height="1"/>
<rect x="245" y="522" width="2" height="1"/>
<rect x="511" y="522" width="1" height="1"/>
<rect x="568" y="522" width="1" height="1"/>
<rect x="661" y="522" width="1" height="1"/>
<rect x="684" y="522" width="1" height="1"/>
<rect x="3" y="523" width="3" height="1"/>
<rect x="82" y="523" width="1" height="1"/>
<rect x="170" y="523" width="3" height="1"/>
<rect x="510" y="523" width="1" height="1"/>
<rect x="550" y="523" width="3" height="1"/>
<rect x="662" y="523" width="1" height="1"/>
<rect x="81" y="524" width="1" height="1"/>
<rect x="509" y="524" width="1" height="1"/>
<rect x="562" y="524" width="3" height="1"/>
<rect x="9" y="525" width="1" height="1"/>
<rect x="176" y="525" width="2" height="1"/>
<rect x="250" y="525" width="1" height="1"/>
<rect x="556" y="525" width="3" height="1"/>
<rect x="666" y="525" width="3" height="1"/>
<rect x="672" y="525" width="3" height="1"/>
<rect x="678" y="525" width="3" height="1"/>
<rect x="10" y="526" width="2" height="1"/>
<rect x="178" y="526" width="1" height="1"/>
<rect x="184" y="526" width="1" height="1"/>
<rect x="251" y="526" width="2" height="1"/>
<rect x="77" y="527" width="1" height="1"/>
<rect x="182" y="527" width="2" height="1"/>
<rect x="256" y="527" width="3" height="1"/>
<rect x="262" y="527" width="3" height="1"/>
<rect x="76" y="528" width="1" height="1"/>
<rect x="268" y="528" width="1" height="1"/>
<rect x="505" y="528" width="1" height="1"/>
<rect x="75" y="529" width="1" height="1"/>
<rect x="269" y="529" width="1" height="1"/>
<rect x="504" y="529" width="1" height="1"/>
<rect x="14" y="530" width="1" height="1"/>
<rect x="270" y="530" width="1" height="1"/>
<rect x="503" y="530" width="1" height="1"/>
<rect x="15" y="531" width="1" height="1"/>
<rect x="16" y="532" width="1" height="1"/>
<rect x="71" y="533" width="1" height="1"/>
<rect x="274" y="533" width="1" height="1"/>
<rect x="498" y="533" width="2" height="1"/>
<rect x="69" y="534" width="2" height="1"/>
<rect x="275" y="534" width="1" height="1"/>
<rect x="497" y="534" width="1" height="1"/>
<rect x="276" y="535" width="1" height="1"/>
<rect x="18" y="536" width="1" height="1"/>
<rect x="493" y="536" width="1" height="1"/>
<rect x="18" y="537" width="1" height="1"/>
<rect x="65" y="537" width="1" height="1"/>
<rect x="491" y="537" width="2" height="1"/>
<rect x="19" y="538" width="1" height="1"/>
<rect x="64" y="538" width="1" height="1"/>
<rect x="438" y="538" width="2" height="1"/>
<rect x="443" y="538" width="3" height="1"/>
<rect x="63" y="539" width="1" height="1"/>
<rect x="280" y="539" width="1" height="1"/>
<rect x="437" y="539" width="1" height="1"/>
<rect x="486" y="539" width="2" height="1"/>
<rect x="281" y="540" width="1" height="1"/>
<rect x="449" y="540" width="1" height="1"/>
<rect x="485" y="540" width="1" height="1"/>
<rect x="282" y="541" width="1" height="1"/>
<rect x="433" y="541" width="1" height="1"/>
<rect x="450" y="541" width="2" height="1"/>
<rect x="22" y="542" width="1" height="1"/>
<rect x="306" y="542" width="1" height="1"/>
<rect x="310" y="542" width="3" height="1"/>
<rect x="432" y="542" width="1" height="1"/>
<rect x="22" y="543" width="1" height="1"/>
<rect x="59" y="543" width="1" height="1"/>
<rect x="305" y="543" width="1" height="1"/>
<rect x="431" y="543" width="1" height="1"/>
<rect x="481" y="543" width="1" height="1"/>
<rect x="23" y="544" width="1" height="1"/>
<rect x="58" y="544" width="1" height="1"/>
<rect x="286" y="544" width="3" height="1"/>
<rect x="304" y="544" width="1" height="1"/>
<rect x="455" y="544" width="2" height="1"/>
<rect x="480" y="544" width="1" height="1"/>
<rect x="57" y="545" width="1" height="1"/>
<rect x="298" y="545" width="3" height="1"/>
<rect x="316" y="545" width="1" height="1"/>
<rect x="457" y="545" width="1" height="1"/>
<rect x="479" y="545" width="1" height="1"/>
<rect x="292" y="546" width="3" height="1"/>
<rect x="317" y="546" width="2" height="1"/>
<rect x="427" y="546" width="1" height="1"/>
<rect x="461" y="546" width="1" height="1"/>
<rect x="27" y="547" width="2" height="1"/>
<rect x="426" y="547" width="1" height="1"/>
<rect x="462" y="547" width="2" height="1"/>
<rect x="474" y="547" width="2" height="1"/>
<rect x="29" y="548" width="1" height="1"/>
<rect x="53" y="548" width="1" height="1"/>
<rect x="425" y="548" width="1" height="1"/>
<rect x="473" y="548" width="1" height="1"/>
<rect x="51" y="549" width="2" height="1"/>
<rect x="467" y="549" width="3" height="1"/>
<rect x="321" y="550" width="1" height="1"/>
<rect x="33" y="551" width="2" height="1"/>
<rect x="46" y="551" width="2" height="1"/>
<rect x="322" y="551" width="1" height="1"/>
<rect x="421" y="551" width="1" height="1"/>
<rect x="35" y="552" width="1" height="1"/>
<rect x="39" y="552" width="3" height="1"/>
<rect x="45" y="552" width="1" height="1"/>
<rect x="323" y="552" width="1" height="1"/>
<rect x="420" y="552" width="1" height="1"/>
<rect x="419" y="553" width="1" height="1"/>
<rect x="414" y="555" width="2" height="1"/>
<rect x="326" y="556" width="1" height="1"/>
<rect x="413" y="556" width="1" height="1"/>
<rect x="326" y="557" width="1" height="1"/>
<rect x="327" y="558" width="1" height="1"/>
<rect x="409" y="558" width="1" height="1"/>
<rect x="407" y="559" width="2" height="1"/>
<rect x="330" y="562" width="1" height="1"/>
<rect x="403" y="562" width="1" height="1"/>
<rect x="330" y="563" width="1" height="1"/>
<rect x="401" y="563" width="2" height="1"/>
<rect x="331" y="564" width="1" height="1"/>
<rect x="371" y="564" width="3" height="1"/>
<rect x="377" y="564" width="1" height="1"/>
<rect x="359" y="565" width="3" height="1"/>
<rect x="365" y="565" width="3" height="1"/>
<rect x="378" y="565" width="2" height="1"/>
<rect x="354" y="566" width="2" height="1"/>
<rect x="383" y="566" width="3" height="1"/>
<rect x="389" y="566" width="1" height="1"/>
<rect x="397" y="566" width="1" height="1"/>
<rect x="353" y="567" width="1" height="1"/>
<rect x="390" y="567" width="2" height="1"/>
<rect x="395" y="567" width="2" height="1"/>
<rect x="335" y="568" width="3" height="1"/>
<rect x="347" y="568" width="3" height="1"/>
<rect x="341" y="569" width="3" height="1"/>
</g>
<g shape-rendering="crispEdges">
<rect x="3" y="14" width="754" height="1" fill="#006400"/>
<rect x="3" y="35" width="754" height="1" fill="#006400"/>
<rect x="3" y="60" width="754" height="1" fill="#006400"/>
<rect x="3" y="171" width="754" height="1" fill="#ff0000"/>
<rect x="3" y="210" width="754" height="1" fill="#ff0000"/>
<rect x="3" y="251" width="754" height="1" fill="#ff0000"/>
<rect x="2" y="2" width="756" height="1" fill="#000"/>
<rect x="2" y="455" width="756" height="1" fill="#000"/>
<rect x="2" y="457" width="756" height="1" fill="#000"/>
<rect x="2" y="579" width="756" height="1" fill="#000"/>
<rect x="2" y="2" width="1" height="454" fill="#000"/>
<rect x="2" y="457" width="1" height="123" fill="#000"/>
<rect x="757" y="2" width="1" height="454" fill="#000"/>
<rect x="757" y="457" width="1" height="123" fill="#000"/>
<rect x="758" y="23" width="2" height="1" fill="#000"/>
<rect x="758" y="56" width="2" height="1" fill="#000"/>
<rect x="758" y="89" width="2" height="1" fill="#000"/>
<rect x="758" y="122" width="2" height="1" fill="#000"/>
<rect x="758" y="155" width="2" height="1" fill="#000"/>
<rect x="758" y="188" width="2" height="1" fill="#000"/>
<rect x="758" y="221" width="2" height="1" fill="#000"/>
<rect x="758" y="254" width="2" height="1" fill="#000"/>
<rect x="758" y="287" width="2" height="1" fill="#000"/>
<rect x="758" y="320" width="2" height="1" fill="#000"/>
<rect x="758" y="353" width="2" height="1" fill="#000"/>
<rect x="758" y="386" width="2" height="1" fill="#000"/>
<rect x="758" y="419" width="2" height="1" fill="#000"/>
<rect x="758" y="452" width="2" height="1" fill="#000"/>
<rect x="758" y="459" width="1" height="1" fill="#000"/>
<rect x="758" y="553" width="1" height="1" fill="#000"/>
<rect x="3" y="580" width="1" height="3" fill="#000"/>
<rect x="67" y="580" width="1" height="3" fill="#000"/>
<rect x="131" y="580" width="1" height="3" fill="#000"/>
<rect x="195" y="580" width="1" height="3" fill="#000"/>
<rect x="259" y="580" width="1" height="3" fill="#000"/>
<rect x="323" y="580" width="1" height="3" fill="#000"/>
<rect x="387" y="580" width="1" height="3" fill="#000"/>
<rect x="451" y="580" width="1" height="3" fill="#000"/>
<rect x="515" y="580" width="1" height="3" fill="#000"/>
<rect x="579" y="580" width="1" height="3" fill="#000"/>
<rect x="643" y="580" width="1" height="3" fill="#000"/>
<rect x="707" y="580" width="1" height="3" fill="#000"/>
<rect x="6" y="9" width="7" height="1" fill="#000"/>
<rect x="7" y="10" width="5" height="1" fill="#000"/>
<rect x="8" y="11" width="3" height="1" fill="#000"/>
<rect x="9" y="12" width="1" height="1" fill="#000"/>
</g>
<text class="ax" transform="translate(763.3 27) scale(0.915 1)">1.21200</text>
<text class="ax" transform="translate(763.3 60) scale(0.915 1)">1.20810</text>
<text class="ax" transform="translate(763.3 93) scale(0.915 1)">1.20410</text>
<text class="ax" transform="translate(763.3 126) scale(0.915 1)">1.20020</text>
<text class="ax" transform="translate(763.3 159) scale(0.915 1)">1.19630</text>
<text class="ax" transform="translate(763.3 192) scale(0.915 1)">1.19240</text>
<text class="ax" transform="translate(763.3 225) scale(0.915 1)">1.18840</text>
<text class="ax" transform="translate(763.3 258) scale(0.915 1)">1.18450</text>
<text class="ax" transform="translate(763.3 291) scale(0.915 1)">1.18060</text>
<text class="ax" transform="translate(763.3 324) scale(0.915 1)">1.17670</text>
<text class="ax" transform="translate(763.3 357) scale(0.915 1)">1.17280</text>
<text class="ax" transform="translate(763.3 390) scale(0.915 1)">1.16880</text>
<text class="ax" transform="translate(763.3 423) scale(0.915 1)">1.16490</text>
<text class="ax" transform="translate(763.3 456) scale(0.915 1)">1.16100</text>
<g shape-rendering="crispEdges">
<rect x="759" y="8" width="41" height="11" fill="#006400"/>
<rect x="759" y="29" width="41" height="11" fill="#006400"/>
<rect x="759" y="54" width="41" height="11" fill="#006400"/>
<rect x="759" y="165" width="41" height="11" fill="#ff0000"/>
<rect x="759" y="204" width="41" height="11" fill="#ff0000"/>
<rect x="759" y="245" width="41" height="11" fill="#ff0000"/>
<rect x="759" y="121" width="41" height="11" fill="#000"/>
</g>
<text class="w ax" transform="translate(763.3 17) scale(0.915 1)">1.21300</text>
<text class="w ax" transform="translate(763.3 38) scale(0.915 1)">1.21050</text>
<text class="w ax" transform="translate(763.3 63) scale(0.915 1)">1.20760</text>
<text class="w ax" transform="translate(763.3 174) scale(0.915 1)">1.19440</text>
<text class="w ax" transform="translate(763.3 213) scale(0.915 1)">1.18970</text>
<text class="w ax" transform="translate(763.3 254) scale(0.915 1)">1.18490</text>
<text class="w ax" transform="translate(763.3 130) scale(0.915 1)">1.19979</text>
<text class="ax" transform="translate(761.3 468) scale(0.915 1)">0.005039</text>
<text class="ax" transform="translate(761.3 557) scale(0.915 1)">0.00</text>
<text class="ax" transform="translate(761 577) scale(0.915 1)">-0.001332</text>
<text transform="translate(18.5 14) scale(0.915 1)" xml:space="preserve">EURUSD,H1  1.20088 1.20099 1.19971 1.19979</text>
<text transform="translate(7.5 470) scale(0.915 1)">MACD(5,34,5) 0.003724 0.004377</text>
<text class="tm" transform="translate(2.5 592) scale(0.915 1)">18 Dec 2017</text>
<text class="tm" transform="translate(66.5 592) scale(0.915 1)">19 Dec 11:00</text>
<text class="tm" transform="translate(130.5 592) scale(0.915 1)">20 Dec 03:00</text>
<text class="tm" transform="translate(194.5 592) scale(0.915 1)">20 Dec 19:00</text>
<text class="tm" transform="translate(258.5 592) scale(0.915 1)">21 Dec 11:00</text>
<text class="tm" transform="translate(322.5 592) scale(0.915 1)">22 Dec 03:00</text>
<text class="tm" transform="translate(386.5 592) scale(0.915 1)">22 Dec 19:00</text>
<text class="tm" transform="translate(450.5 592) scale(0.915 1)">27 Dec 00:00</text>
<text class="tm" transform="translate(514.5 592) scale(0.915 1)">27 Dec 16:00</text>
<text class="tm" transform="translate(578.5 592) scale(0.915 1)">28 Dec 08:00</text>
<text class="tm" transform="translate(642.5 592) scale(0.915 1)">29 Dec 00:00</text>
<text class="tm" transform="translate(706.5 592) scale(0.915 1)">29 Dec 16:00</text>
</svg></body></html>
